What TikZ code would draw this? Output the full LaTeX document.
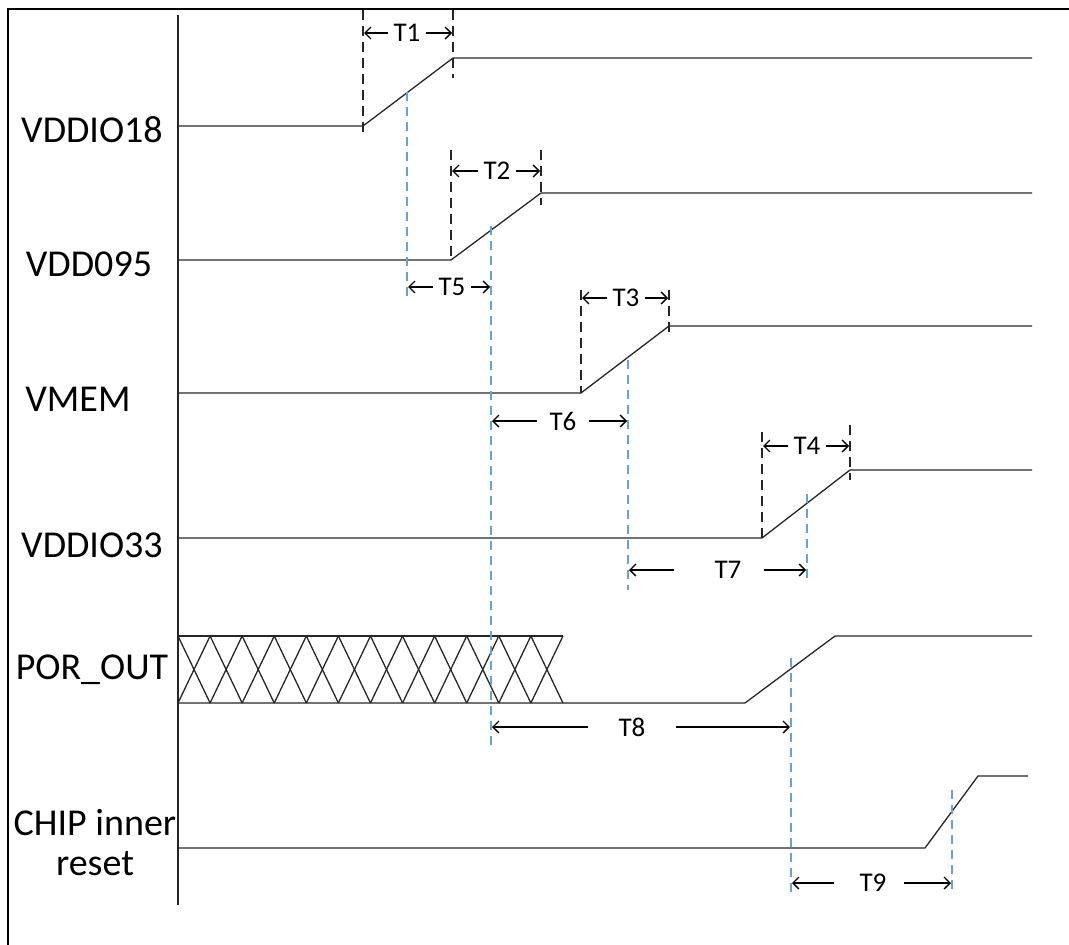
\documentclass[tikz,border=0pt]{standalone}
\usepackage{fontspec}
\setmainfont{Carlito}
\usetikzlibrary{arrows.meta}
\definecolor{bl}{RGB}{105,160,215}
\begin{document}
\begin{tikzpicture}[x=1pt,y=-1pt,
  sig/.style={line width=1.3pt, draw=black!85},
  bdash/.style={line width=1.4pt, draw=black!85, dash pattern=on 10pt off 6pt},
  ldash/.style={line width=1.4pt, draw=bl, dash pattern=on 9pt off 6pt},
  arr/.style={line width=1.3pt, draw=black, -{Straight Barb[length=6pt,width=12pt]}},
  lbl/.style={font=\fontsize{38}{40}\selectfont, inner sep=0pt},
  tl/.style={font=\fontsize{27}{30}\selectfont, inner sep=0pt}]
\useasboundingbox (0,0) rectangle (1069,945);
% frame
\draw[line width=1.5pt] (8,945) -- (8,9) -- (1069,9);
% axis
\draw[line width=1.5pt, draw=black!85] (178,15) -- (178,905);
% labels
\node[lbl] (l1) at (92,130) {VDDIO18};
\node[lbl] (l2) at (89,264) {VDD095};
\node[lbl] (l3) at (78,399) {VMEM};
\node[lbl] (l4) at (92,545) {VDDIO33};
\node[lbl] (l5) at (92,670) {POR\_OUT};
\node[lbl, align=center] (l6) at (95,843) {CHIP inner\\reset};
% waveforms
\draw[sig] (178,126) -- (363,126) -- (453,58) -- (1032,58);
\draw[sig] (178,260) -- (451,260) -- (541,193) -- (1032,193);
\draw[sig] (178,393) -- (581,393) -- (669,326) -- (1032,326);
\draw[sig] (178,538) -- (762,538) -- (850,470) -- (1032,470);
\draw[sig] (178,636) -- (563,636);
\draw[sig] (178,703) -- (745,703) -- (835,636) -- (1032,636);
\draw[sig] (178,848) -- (925,848) -- (978,776) -- (1028,776);
\foreach \i in {0,...,11}{
  \draw[sig] ({178+\i*32.08},636) -- ({178+(\i+1)*32.08},703);
  \draw[sig] ({178+\i*32.08},703) -- ({178+(\i+1)*32.08},636);
}
% black dashed markers
\draw[bdash] (363,10) -- (363,135);
\draw[bdash] (453,10) -- (453,78);
\draw[bdash] (451,150) -- (451,260);
\draw[bdash] (541,150) -- (541,205);
\draw[bdash] (581,290) -- (581,393);
\draw[bdash] (669,290) -- (669,337);
\draw[bdash] (762,432) -- (762,538);
\draw[bdash] (850,425) -- (850,480);
% blue dashed markers
\draw[ldash] (407,92) -- (407,296);
\draw[ldash] (491,226) -- (491,750);
\draw[ldash] (628,360) -- (628,590);
\draw[ldash] (807,494) -- (807,583);
\draw[ldash] (791,658) -- (791,895);
\draw[ldash] (952,790) -- (952,893);
% timing labels
\node[tl] (t1) at (407,33) {T1};
\draw[arr] ([xshift=-5pt]t1.west) -- (364,33);
\draw[arr] ([xshift=5pt]t1.east) -- (452,33);
\node[tl] (t2) at (497,171) {T2};
\draw[arr] ([xshift=-5pt]t2.west) -- (452,171);
\draw[arr] ([xshift=5pt]t2.east) -- (540,171);
\node[tl] (t3) at (626,298) {T3};
\draw[arr] ([xshift=-5pt]t3.west) -- (582,298);
\draw[arr] ([xshift=5pt]t3.east) -- (668,298);
\node[tl] (t4) at (807,446) {T4};
\draw[arr] ([xshift=-5pt]t4.west) -- (763,446);
\draw[arr] ([xshift=5pt]t4.east) -- (849,446);
\node[tl] (t5) at (452,287) {T5};
\draw[arr] ([xshift=-5pt]t5.west) -- (408,287);
\draw[arr] ([xshift=5pt]t5.east) -- (490,287);
\node[tl] (t6) at (563,421) {T6};
\draw[arr] ([xshift=-12pt]t6.west) -- (492,421);
\draw[arr] ([xshift=12pt]t6.east) -- (627,421);
\node[tl] (t7) at (728,570) {T7};
\draw[arr] ([xshift=-40pt]t7.west) -- (629,570);
\draw[arr] ([xshift=22pt]t7.east) -- (806,570);
\node[tl] (t8) at (632,727) {T8};
\draw[arr] ([xshift=-30pt]t8.west) -- (492,727);
\draw[arr] ([xshift=30pt]t8.east) -- (790,727);
\node[tl] (t9) at (873,883) {T9};
\draw[arr] ([xshift=-25pt]t9.west) -- (792,883);
\draw[arr] ([xshift=17pt]t9.east) -- (951,883);
\end{tikzpicture}
\end{document}
